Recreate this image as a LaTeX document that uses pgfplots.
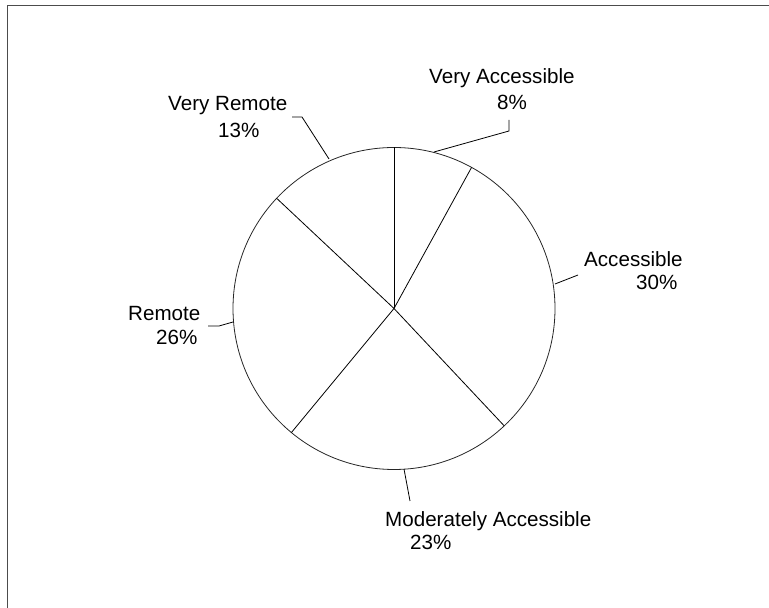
\documentclass[border=0pt]{standalone}
\usepackage{pgfplots}
\pgfplotsset{compat=1.18}
\usepackage{pgfplotstable}
\usepackage{fontspec}
\setmainfont{Liberation Sans}

% share in percent, and where each slice starts (cumulative percent, clockwise from top)
\pgfplotstableread{
label pct start
VeryAccessible 8 0
Accessible 30 8
Moderately 23 38
Remote 26 61
VeryRemote 13 87
}\piedata

\tikzset{lbl/.style={font=\fontsize{20.6bp}{24.7bp}\selectfont, inner sep=0pt, anchor=base west}}

\begin{document}
\begin{tikzpicture}
\begin{axis}[
  scale only axis, width=769bp, height=608bp,
  xmin=0, xmax=769, ymin=0, ymax=608,
  hide axis, clip=false,
]
% pie outline
\draw[line width=0.8bp, black!85] (axis cs:394,299.5) circle[radius=161];
% slice boundaries from the data
\addplot[draw=black, line width=0.8bp,
  quiver={u={161*sin(3.6*\thisrow{start})}, v={161*cos(3.6*\thisrow{start})}}]
  table[x expr=394, y expr=299.5] {\piedata};
% leader lines
\addplot[black, line width=0.8bp] coordinates {(434,456) (509,477) (509,488)};
\addplot[black, line width=0.8bp] coordinates {(555,324) (578,333)};
\addplot[black, line width=0.8bp] coordinates {(404,139) (410,107)};
\addplot[black, line width=0.8bp] coordinates {(233,286) (219,282) (208,282)};
\addplot[black, line width=0.8bp] coordinates {(329,449) (302,491) (292,491)};
% labels
\node[lbl] at (axis cs:429,524) {Very Accessible};
\node[lbl] at (axis cs:497,498) {8\%};
\node[lbl] at (axis cs:168,497) {Very Remote};
\node[lbl] at (axis cs:218,470) {13\%};
\node[lbl] at (axis cs:584,341) {Accessible};
\node[lbl] at (axis cs:636,318) {30\%};
\node[lbl] at (axis cs:128,287) {Remote};
\node[lbl] at (axis cs:156,263) {26\%};
\node[lbl] at (axis cs:385,81) {Moderately Accessible};
\node[lbl] at (axis cs:410,58) {23\%};
% frame
\draw[line width=0.9bp, black!70] (axis cs:7,0) -- (axis cs:7,603) -- (axis cs:769,603);
\end{axis}
\pgfresetboundingbox
\path (0,0) rectangle (769bp,608bp);
\end{tikzpicture}
\end{document}
